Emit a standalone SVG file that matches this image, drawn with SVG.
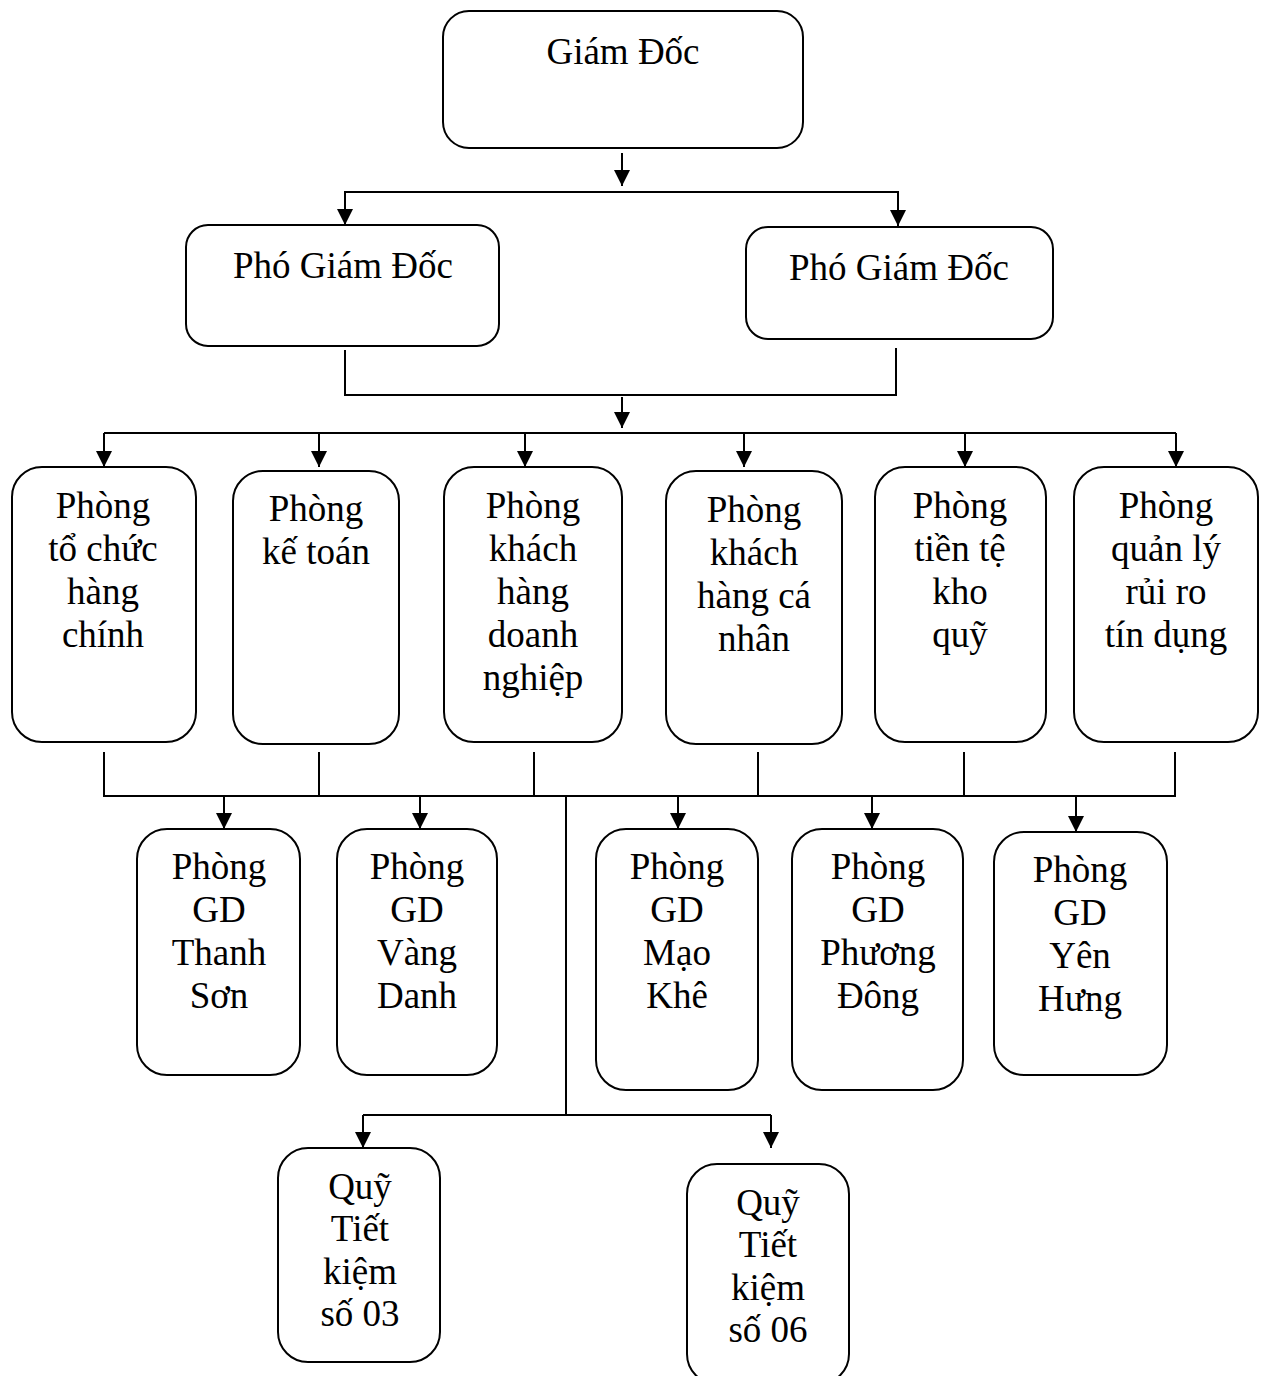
<svg xmlns="http://www.w3.org/2000/svg" width="1262" height="1376" viewBox="0 0 1262 1376">
<defs>
<style>
.box{fill:#fff;stroke:#000;stroke-width:2}
.t{font-family:"Liberation Serif","Times New Roman",serif;font-size:37px;fill:#000;text-anchor:middle}
.c{fill:none;stroke:#000;stroke-width:2}
</style>
<marker id="ah" markerUnits="userSpaceOnUse" markerWidth="16" markerHeight="16" refX="16" refY="8" orient="auto">
<path d="M0,0 L16,8 L0,16 z" fill="#000"/>
</marker>
</defs>
<rect width="1262" height="1376" fill="#fff"/>
<g id="connectors">
<line class="c" x1="622" y1="153" x2="622" y2="186" marker-end="url(#ah)"/>
<polyline class="c" points="345,225 345,192 898,192 898,226" marker-end="url(#ah)"/>
<line class="c" x1="345" y1="192" x2="345" y2="225" marker-end="url(#ah)"/>
<polyline class="c" points="345,350 345,395 896,395 896,348"/>
<line class="c" x1="622" y1="397" x2="622" y2="428" marker-end="url(#ah)"/>
<line class="c" x1="104" y1="433" x2="1176" y2="433"/>
<line class="c" x1="104" y1="433" x2="104" y2="467" marker-end="url(#ah)"/>
<line class="c" x1="319" y1="433" x2="319" y2="467" marker-end="url(#ah)"/>
<line class="c" x1="525" y1="433" x2="525" y2="467" marker-end="url(#ah)"/>
<line class="c" x1="744" y1="433" x2="744" y2="467" marker-end="url(#ah)"/>
<line class="c" x1="965" y1="433" x2="965" y2="467" marker-end="url(#ah)"/>
<line class="c" x1="1176" y1="433" x2="1176" y2="467" marker-end="url(#ah)"/>
<line class="c" x1="104" y1="752" x2="104" y2="796"/>
<line class="c" x1="319" y1="752" x2="319" y2="796"/>
<line class="c" x1="534" y1="752" x2="534" y2="796"/>
<line class="c" x1="758" y1="752" x2="758" y2="796"/>
<line class="c" x1="964" y1="752" x2="964" y2="796"/>
<line class="c" x1="1175" y1="752" x2="1175" y2="796"/>
<line class="c" x1="103" y1="796" x2="1176" y2="796"/>
<line class="c" x1="224" y1="796" x2="224" y2="829" marker-end="url(#ah)"/>
<line class="c" x1="420" y1="796" x2="420" y2="829" marker-end="url(#ah)"/>
<line class="c" x1="678" y1="796" x2="678" y2="829" marker-end="url(#ah)"/>
<line class="c" x1="872" y1="796" x2="872" y2="829" marker-end="url(#ah)"/>
<line class="c" x1="1076" y1="796" x2="1076" y2="832" marker-end="url(#ah)"/>
<line class="c" x1="566" y1="796" x2="566" y2="1115"/>
<line class="c" x1="363" y1="1115" x2="771" y2="1115"/>
<line class="c" x1="363" y1="1115" x2="363" y2="1148" marker-end="url(#ah)"/>
<line class="c" x1="771" y1="1115" x2="771" y2="1148" marker-end="url(#ah)"/>
</g>
<g id="giam-doc">
<rect class="box" x="443" y="11" width="360" height="137" rx="26"/>
<text class="t" x="623" y="64">Giám Đốc</text>
</g>
<g id="pho-giam-doc-1">
<rect class="box" x="186" y="225" width="313" height="121" rx="22"/>
<text class="t" x="343" y="278">Phó Giám Đốc</text>
</g>
<g id="pho-giam-doc-2">
<rect class="box" x="746" y="227" width="307" height="112" rx="22"/>
<text class="t" x="899" y="280">Phó Giám Đốc</text>
</g>
<g id="phong-to-chuc">
<rect class="box" x="12" y="467" width="184" height="275" rx="30"/>
<text class="t" x="103" y="518">Phòng</text>
<text class="t" x="103" y="561">tổ chức</text>
<text class="t" x="103" y="604">hàng</text>
<text class="t" x="103" y="647">chính</text>
</g>
<g id="phong-ke-toan">
<rect class="box" x="233" y="471" width="166" height="273" rx="30"/>
<text class="t" x="316" y="521">Phòng</text>
<text class="t" x="316" y="564">kế toán</text>
</g>
<g id="phong-khdn">
<rect class="box" x="444" y="467" width="178" height="275" rx="30"/>
<text class="t" x="533" y="518">Phòng</text>
<text class="t" x="533" y="561">khách</text>
<text class="t" x="533" y="604">hàng</text>
<text class="t" x="533" y="647">doanh</text>
<text class="t" x="533" y="690">nghiệp</text>
</g>
<g id="phong-khcn">
<rect class="box" x="666" y="471" width="176" height="273" rx="30"/>
<text class="t" x="754" y="522">Phòng</text>
<text class="t" x="754" y="565">khách</text>
<text class="t" x="754" y="608">hàng cá</text>
<text class="t" x="754" y="651">nhân</text>
</g>
<g id="phong-tien-te">
<rect class="box" x="875" y="467" width="171" height="275" rx="30"/>
<text class="t" x="960" y="518">Phòng</text>
<text class="t" x="960" y="561">tiền tệ</text>
<text class="t" x="960" y="604">kho</text>
<text class="t" x="960" y="647">quỹ</text>
</g>
<g id="phong-qlrr">
<rect class="box" x="1074" y="467" width="184" height="275" rx="30"/>
<text class="t" x="1166" y="518">Phòng</text>
<text class="t" x="1166" y="561">quản lý</text>
<text class="t" x="1166" y="604">rủi ro</text>
<text class="t" x="1166" y="647">tín dụng</text>
</g>
<g id="gd-thanh-son">
<rect class="box" x="137" y="829" width="163" height="246" rx="30"/>
<text class="t" x="219" y="879">Phòng</text>
<text class="t" x="219" y="922">GD</text>
<text class="t" x="219" y="965">Thanh</text>
<text class="t" x="219" y="1008">Sơn</text>
</g>
<g id="gd-vang-danh">
<rect class="box" x="337" y="829" width="160" height="246" rx="30"/>
<text class="t" x="417" y="879">Phòng</text>
<text class="t" x="417" y="922">GD</text>
<text class="t" x="417" y="965">Vàng</text>
<text class="t" x="417" y="1008">Danh</text>
</g>
<g id="gd-mao-khe">
<rect class="box" x="596" y="829" width="162" height="261" rx="30"/>
<text class="t" x="677" y="879">Phòng</text>
<text class="t" x="677" y="922">GD</text>
<text class="t" x="677" y="965">Mạo</text>
<text class="t" x="677" y="1008">Khê</text>
</g>
<g id="gd-phuong-dong">
<rect class="box" x="792" y="829" width="171" height="261" rx="30"/>
<text class="t" x="878" y="879">Phòng</text>
<text class="t" x="878" y="922">GD</text>
<text class="t" x="878" y="965">Phương</text>
<text class="t" x="878" y="1008">Đông</text>
</g>
<g id="gd-yen-hung">
<rect class="box" x="994" y="832" width="173" height="243" rx="30"/>
<text class="t" x="1080" y="882">Phòng</text>
<text class="t" x="1080" y="925">GD</text>
<text class="t" x="1080" y="968">Yên</text>
<text class="t" x="1080" y="1011">Hưng</text>
</g>
<g id="quy-03">
<rect class="box" x="278" y="1148" width="162" height="214" rx="30"/>
<text class="t" x="360" y="1199">Quỹ</text>
<text class="t" x="360" y="1241">Tiết</text>
<text class="t" x="360" y="1284">kiệm</text>
<text class="t" x="360" y="1326">số 03</text>
</g>
<g id="quy-06">
<rect class="box" x="687" y="1164" width="162" height="220" rx="30"/>
<text class="t" x="768" y="1215">Quỹ</text>
<text class="t" x="768" y="1257">Tiết</text>
<text class="t" x="768" y="1300">kiệm</text>
<text class="t" x="768" y="1342">số 06</text>
</g>
</svg>
